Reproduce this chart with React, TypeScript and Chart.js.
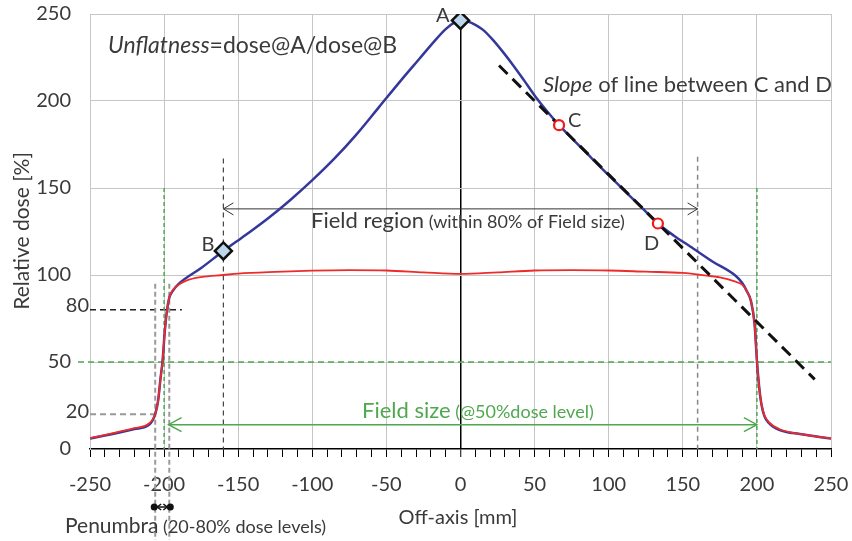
import { useEffect, useRef } from 'react';
import { Chart, registerables } from 'chart.js';

Chart.register(...registerables);

// Unflattened (FFF) beam profile: off-axis position [mm] and relative dose [%]
const fffX = [
  -250, -230, -220, -210, -206, -204, -202.5, -201, -199.5, -198, -196.5, -194, -190,
  -175, -160, -145, -130, -115, -100, -85, -70, -55, -40, -28, -18, -10, -4,
  0, 5, 10, 15, 22, 29, 36, 43, 50, 58, 66.5, 77, 87, 98, 110, 122, 133.2, 144, 155, 170,
  186, 190, 193, 196, 198.4, 200, 201.5, 203, 205, 208, 215, 230, 250,
];
const fffDose = [
  6, 9.5, 11.5, 14, 20, 28, 40, 51, 68, 80, 87, 91, 95,
  104, 113.8, 123, 132.5, 143, 154.5, 167, 181, 196.5, 212, 224, 234, 241.3, 245.2,
  246.3, 245.6, 243.8, 241, 235, 227.8, 220, 211.7, 203.2, 194.5, 186.1, 177, 168.4, 159, 149, 139, 129.6, 122.6, 116.4, 107.8,
  99.3, 95.5, 91, 85, 72, 51, 36, 26, 19, 15, 11, 8.5, 6,
];

// Flattened beam profile
const ffX = [
  -250, -230, -220, -210, -206, -204, -202.5, -201, -199.5, -198, -196.5, -194, -190, -185,
  -175, -160, -150, -125, -100, -75, -50, -25, 0, 25, 50, 75, 100, 125, 150, 165, 175, 185,
  190, 193, 196, 198.4, 200, 201.5, 203, 205, 208, 215, 230, 250,
];
const ffDose = [
  6.2, 10, 12, 14.8, 20, 28, 40, 51, 68, 80, 87, 91.5, 94.5, 96.8,
  98.8, 100, 100.8, 101.8, 102.5, 102.8, 102.6, 101.5, 100.6, 101.5, 102.6, 102.8, 102.6, 101.9, 101.2, 99.8, 98.6, 96.3,
  94.5, 91, 85, 72, 51, 36, 26, 19.5, 15.5, 11.5, 8.5, 6,
];

// Characteristic points
const diamondX = [0, -160];
const diamondDose = [246.3, 113.8];
const diamondLabels = ['A', 'B'];
const circleX = [66.5, 133.2];
const circleDose = [186.1, 129.6];
const circleLabels = ['C', 'D'];

// Straight line through C and D, extended
const slopeX = [26, 239];
const slopeDose = [220.4, 40];

// Reference levels and regions
const fieldEdges = [-200, 200]; // 50% dose level
const fieldRegion = [-160, 160]; // 80% of the field size
const penumbraEdges = [-206, -196.5]; // 20% and 80% dose levels
const doseLevels = [80, 50, 20];

const yTickValues = [0, 50, 100, 150, 200, 250];

const FONT = 'Lato, "Open Sans", sans-serif';
const TEXT = '#3a3a3a';
const GREEN = '#4fa84f';
const GRID = '#c6c6c6';

const toPts = (xs: number[], ys: number[]) => xs.map((x, i) => ({ x, y: ys[i] }));

function dashed(
  ctx: CanvasRenderingContext2D,
  x1: number, y1: number, x2: number, y2: number,
  color: string, width: number, dash: number[],
) {
  ctx.save();
  ctx.strokeStyle = color;
  ctx.lineWidth = width;
  ctx.setLineDash(dash);
  ctx.beginPath();
  ctx.moveTo(x1, y1);
  ctx.lineTo(x2, y2);
  ctx.stroke();
  ctx.restore();
}

function arrowHead(ctx: CanvasRenderingContext2D, tipX: number, y: number, dir: number, len: number, half: number) {
  ctx.beginPath();
  ctx.moveTo(tipX - dir * len, y - half);
  ctx.lineTo(tipX, y);
  ctx.lineTo(tipX - dir * len, y + half);
  ctx.stroke();
}

function doubleArrow(
  ctx: CanvasRenderingContext2D, x1: number, x2: number, y: number,
  color: string, width: number, len: number, half: number,
) {
  ctx.save();
  ctx.strokeStyle = color;
  ctx.lineWidth = width;
  ctx.setLineDash([]);
  ctx.beginPath();
  ctx.moveTo(x1, y);
  ctx.lineTo(x2, y);
  ctx.stroke();
  arrowHead(ctx, x1, y, -1, len, half);
  arrowHead(ctx, x2, y, 1, len, half);
  ctx.restore();
}

// Draws runs of text with different styles one after another on one baseline
function richText(
  ctx: CanvasRenderingContext2D, x: number, y: number,
  parts: { t: string; font: string; color?: string }[],
) {
  ctx.save();
  ctx.textBaseline = 'alphabetic';
  ctx.textAlign = 'left';
  let cx = x;
  for (const p of parts) {
    ctx.font = p.font;
    ctx.fillStyle = p.color || TEXT;
    ctx.fillText(p.t, cx, y);
    cx += ctx.measureText(p.t).width;
  }
  ctx.restore();
}

const noScalePadding = (s: any) => {
  s.paddingLeft = 0;
  s.paddingRight = 0;
  s.paddingTop = 0;
  s.paddingBottom = 0;
};

const guides = {
  id: 'profileGuides',
  beforeDatasetsDraw(chart: any) {
    const { ctx, chartArea: a, scales } = chart;
    const xs = scales.x;
    const ys = scales.y;
    const px = (v: number) => xs.getPixelForValue(v);
    const py = (v: number) => ys.getPixelForValue(v);

    // 50% level across the plot
    dashed(ctx, a.left - 12, py(doseLevels[1]), a.right, py(doseLevels[1]), GREEN, 1.5, [6, 4]);
    // 80% and 20% levels on the left flank
    dashed(ctx, a.left, py(doseLevels[0]), px(-188), py(doseLevels[0]), '#222', 1.5, [6, 4]);
    dashed(ctx, a.left, py(doseLevels[2]), px(penumbraEdges[0]), py(doseLevels[2]), '#999', 2, [6, 4]);

    // field edges at the 50% level
    for (const e of fieldEdges) {
      dashed(ctx, px(e), py(150), px(e), a.bottom, GREEN, 1.5, [4, 3]);
    }
    // borders of the field region
    dashed(ctx, px(fieldRegion[0]), py(167), px(fieldRegion[0]), a.bottom, '#444', 1.2, [5, 4]);
    dashed(ctx, px(fieldRegion[1]), py(168), px(fieldRegion[1]), a.bottom, '#888', 1.5, [5, 4]);
    // penumbra edges, running down below the axis
    for (const e of penumbraEdges) {
      dashed(ctx, px(e), py(95), px(e), 540, '#9a9a9a', 2, [5, 3]);
    }

    // field region arrow
    doubleArrow(ctx, px(fieldRegion[0]), px(fieldRegion[1]), py(138), '#333', 1, 10, 6);
    // field size arrow
    doubleArrow(ctx, px(-197), px(fieldEdges[1]), py(14), GREEN, 1.5, 13, 7);
  },
  afterDraw(chart: any) {
    const { ctx, chartArea: a, scales } = chart;
    const xs = scales.x;
    const ys = scales.y;
    const px = (v: number) => xs.getPixelForValue(v);
    const py = (v: number) => ys.getPixelForValue(v);

    ctx.save();
    // extra dose-level labels beside the y axis
    ctx.font = `20px ${FONT}`;
    ctx.fillStyle = TEXT;
    ctx.textAlign = 'right';
    ctx.textBaseline = 'middle';
    ctx.fillText(String(doseLevels[0]), a.left - 1, py(doseLevels[0]) - 4);
    ctx.fillText(String(doseLevels[2]), a.left - 1, py(doseLevels[2]) - 3);

    // point labels
    ctx.font = `20px ${FONT}`;
    ctx.textBaseline = 'alphabetic';
    ctx.textAlign = 'right';
    ctx.fillText(diamondLabels[0], px(diamondX[0]) - 11, py(diamondDose[0]) + 2);
    ctx.fillText(diamondLabels[1], px(diamondX[1]) - 9, py(diamondDose[1]) + 0);
    ctx.textAlign = 'left';
    ctx.fillText(circleLabels[0], px(circleX[0]) + 9, py(circleDose[0]) + 2);
    ctx.fillText(circleLabels[1], px(circleX[1]) - 14, py(circleDose[1]) + 27);
    ctx.restore();

    richText(ctx, 108, 53, [
      { t: 'Unflatness', font: `italic 23px ${FONT}` },
      { t: '=dose@A/dose@B', font: `23px ${FONT}` },
    ]);
    richText(ctx, 543, 92, [
      { t: 'Slope', font: `italic 22px ${FONT}` },
      { t: ' of line between C and D', font: `22px ${FONT}` },
    ]);
    richText(ctx, 311, 228, [
      { t: 'Field region', font: `22px ${FONT}` },
      { t: ' (within 80% of Field size)', font: `18px ${FONT}` },
    ]);
    richText(ctx, 362, 418, [
      { t: 'Field size', font: `22px ${FONT}`, color: GREEN },
      { t: ' (@50%dose level)', font: `18px ${FONT}`, color: GREEN },
    ]);
    richText(ctx, 65, 533, [
      { t: 'Penumbra', font: `21px ${FONT}` },
      { t: ' (20-80% dose levels)', font: `18px ${FONT}` },
    ]);

    // penumbra width marker under the axis
    ctx.save();
    const pl = px(penumbraEdges[0]) - 1;
    const pr = px(penumbraEdges[1]) + 1;
    const my = 507;
    ctx.strokeStyle = '#111';
    ctx.fillStyle = '#111';
    ctx.lineWidth = 1.5;
    ctx.beginPath();
    ctx.moveTo(pl, my);
    ctx.lineTo(pr, my);
    ctx.stroke();
    arrowHead(ctx, pr - 3, my, 1, 4, 3);
    arrowHead(ctx, pl + 3, my, -1, 4, 3);
    for (const p of [pl, pr]) {
      ctx.beginPath();
      ctx.arc(p, my, 3.5, 0, Math.PI * 2);
      ctx.fill();
    }
    ctx.restore();

    // axis titles
    ctx.save();
    ctx.fillStyle = TEXT;
    ctx.font = `20px ${FONT}`;
    ctx.textAlign = 'center';
    ctx.textBaseline = 'middle';
    ctx.fillText('Off-axis [mm]', 458, 518);
    ctx.font = `21px ${FONT}`;
    ctx.translate(22, 231);
    ctx.rotate(-Math.PI / 2);
    ctx.fillText('Relative dose [%]', 0, 0);
    ctx.restore();
  },
};

export default function App() {
  const canvasRef = useRef<HTMLCanvasElement | null>(null);

  useEffect(() => {
    if (!canvasRef.current) return;
    const chart = new Chart(canvasRef.current, {
      type: 'line',
      data: {
        datasets: [
          {
            label: 'A, B',
            data: toPts(diamondX, diamondDose),
            showLine: false,
            pointStyle: 'rectRot',
            pointRadius: 8.5,
            pointBorderWidth: 2.5,
            pointBorderColor: '#111',
            pointBackgroundColor: '#bcd6ec',
            order: 0,
          },
          {
            label: 'C, D',
            data: toPts(circleX, circleDose),
            showLine: false,
            pointStyle: 'circle',
            pointRadius: 5,
            pointBorderWidth: 2.2,
            pointBorderColor: '#f01818',
            pointBackgroundColor: '#ffffff',
            order: 0,
          },
          {
            label: 'Slope C-D',
            data: toPts(slopeX, slopeDose),
            borderColor: '#111',
            borderWidth: 3,
            borderDash: [12, 7],
            pointRadius: 0,
            order: 1,
          },
          {
            label: 'Flattened',
            data: toPts(ffX, ffDose),
            borderColor: '#ee2b2b',
            borderWidth: 1.8,
            pointRadius: 0,
            cubicInterpolationMode: 'monotone',
            order: 2,
          },
          {
            label: 'Unflattened',
            data: toPts(fffX, fffDose),
            borderColor: '#34389a',
            borderWidth: 2.5,
            pointRadius: 0,
            cubicInterpolationMode: 'monotone',
            order: 3,
          },
        ],
      },
      options: {
        animation: false,
        responsive: true,
        maintainAspectRatio: false,
        layout: { padding: { left: 0, right: 21, top: 14, bottom: 0 } },
        plugins: { legend: { display: false }, tooltip: { enabled: false } },
        font: { family: FONT },
        scales: {
          x: {
            type: 'linear',
            min: -250,
            max: 250,
            afterFit: (s: any) => { s.height = 92; noScalePadding(s); },
            border: { color: '#000', width: 1.5 },
            grid: {
              color: (c: any) => {
                const v = Math.round(c.tick?.value ?? 1);
                if (v === 0) return '#000';
                return v % 50 === 0 ? GRID : 'rgba(0,0,0,0)';
              },
              lineWidth: (c: any) => (Math.round(c.tick?.value ?? 1) === 0 ? 1.5 : 1),
              tickColor: '#000',
              tickLength: 8,
              tickWidth: 1,
            },
            ticks: {
              stepSize: 10,
              autoSkip: false,
              maxRotation: 0,
              minRotation: 0,
              padding: 16,
              color: TEXT,
              font: { family: FONT, size: 20 },
              callback: (v: any) => (Math.round(v) % 50 === 0 ? String(Math.round(v)) : ''),
            },
          },
          y: {
            type: 'linear',
            min: 0,
            max: 250,
            afterFit: (s: any) => { s.width = 90; noScalePadding(s); },
            afterBuildTicks: (s: any) => { s.ticks = yTickValues.map((value) => ({ value })); },
            border: { color: GRID, width: 1 },
            grid: {
              color: (c: any) => (Math.round(c.tick?.value ?? 1) === 0 ? 'rgba(0,0,0,0)' : GRID),
              drawTicks: false,
            },
            ticks: {
              padding: 19,
              color: TEXT,
              font: { family: FONT, size: 20 },
            },
          },
        },
      },
      plugins: [guides],
    } as any);
    return () => chart.destroy();
  }, []);

  return (
    <div style={{ position: 'absolute', left: 0, top: 0, width: 852, height: 541, background: '#fff' }}>
      <canvas ref={canvasRef} />
    </div>
  );
}
